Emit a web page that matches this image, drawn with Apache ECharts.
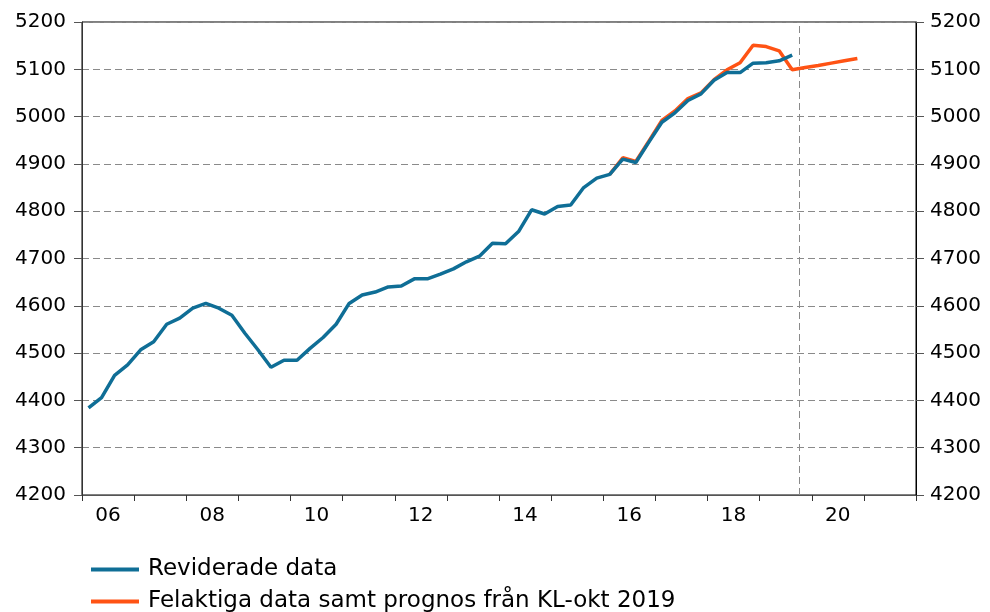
<!DOCTYPE html>
<html>
<head>
<meta charset="utf-8">
<script src="https://cdn.jsdelivr.net/npm/echarts@6/dist/echarts.min.js"></script>
<style>html,body{margin:0;padding:0;background:#fff;}#c{width:990px;height:612px;}</style>
</head>
<body>
<div id="c"></div>
<script>
// Year categories for the x axis (ticks at year boundaries, labels every other year)
const years = ['06','07','08','09','10','11','12','13','14','15','16','17','18','19','20','21'];
// Quarterly data: Reviderade data, starting 2006 Q1
const blueStart = 2006;
const blueValues = [
  4384, 4406, 4453, 4475,
  4507, 4524, 4561, 4574,
  4595, 4605, 4595, 4580,
  4542, 4507, 4470, 4485,
  4485, 4510, 4533, 4561,
  4605, 4623, 4629, 4640,
  4642, 4657, 4657, 4667,
  4678, 4693, 4705, 4732,
  4731, 4757, 4803, 4794,
  4810, 4813, 4850, 4870,
  4878, 4910, 4903, 4946,
  4988, 5008, 5034, 5048,
  5077, 5093, 5093, 5113,
  5114, 5118, 5130
];
// Felaktiga data samt prognos, starting 2016 Q1
const orangeStart = 2016;
const orangeValues = [
  4878, 4913, 4905, 4948,
  4992, 5012, 5038, 5050,
  5078, 5099, 5114, 5151,
  5148, 5139, 5099, 5104,
  5108, 5113, 5118, 5123
];
const forecastLineX = 2019.76;
const yMin = 4200, yMax = 5200, yStep = 100;
const blueName = 'Reviderade data';
const orangeName = 'Felaktiga data samt prognos från KL-okt 2019';

function toPairs(start, vals) {
  return vals.map((v, i) => [start + (i + 0.5) / 4, v]);
}

const FONT = 'DejaVu Sans';
const chart = echarts.init(document.getElementById('c'));
const yAxisCommon = {
  type: 'value', min: yMin, max: yMax, interval: yStep,
  axisLabel: { fontFamily: FONT, fontSize: 20, color: '#000', formatter: v => String(v) },
  axisTick: { show: true, length: 8, lineStyle: { color: '#555' } }
};
const legendCommon = {
  orient: 'horizontal', left: 86,
  itemWidth: 48, itemHeight: 4, icon: 'rect',
  textStyle: { fontFamily: FONT, fontSize: 23, color: '#000', padding: [0,0,0,4] }
};
chart.setOption({
  animation: false,
  backgroundColor: '#fff',
  grid: { left: 82, right: 74, top: 22, bottom: 117, show: true, borderColor: '#000', borderWidth: 1, backgroundColor: 'transparent' },
  legend: [
    Object.assign({}, legendCommon, { top: 553, data: [blueName] }),
    Object.assign({}, legendCommon, { top: 585, data: [orangeName] })
  ],
  xAxis: [
    {
      type: 'category', data: years, boundaryGap: true, position: 'bottom',
      axisLine: { lineStyle: { color: '#555', width: 1 } },
      axisTick: { show: true, interval: 0, length: 6, lineStyle: { color: '#333' } },
      axisLabel: { interval: 1, fontFamily: FONT, fontSize: 20, color: '#000', margin: 11 },
      splitLine: { show: false }
    },
    {
      type: 'value', min: 2006, max: 2022, show: false, splitLine: { show: false }
    }
  ],
  yAxis: [
    Object.assign({}, yAxisCommon, {
      position: 'left',
      axisLine: { show: true, lineStyle: { color: '#333' } },
      axisLabel: Object.assign({}, yAxisCommon.axisLabel, { margin: 16 }),
      splitLine: { show: true, lineStyle: { color: '#8a8a8a', type: [7, 4], width: 1 } }
    }),
    Object.assign({}, yAxisCommon, {
      position: 'right',
      axisLine: { show: true, lineStyle: { color: '#000' } },
      axisLabel: Object.assign({}, yAxisCommon.axisLabel, { margin: 14 }),
      splitLine: { show: false }
    })
  ],
  series: [
    {
      name: orangeName,
      type: 'line', xAxisIndex: 1, yAxisIndex: 0,
      data: toPairs(orangeStart, orangeValues),
      showSymbol: false, symbol: 'none',
      lineStyle: { color: '#ff5314', width: 3.5 }, itemStyle: { color: '#ff5314' },
      z: 2,
      markLine: {
        silent: true, symbol: 'none', label: { show: false },
        lineStyle: { color: '#8a8a8a', type: [7, 4], width: 1 },
        data: [{ xAxis: forecastLineX }]
      }
    },
    {
      name: blueName,
      type: 'line', xAxisIndex: 1, yAxisIndex: 0,
      data: toPairs(blueStart, blueValues),
      showSymbol: false, symbol: 'none',
      lineStyle: { color: '#0f6e96', width: 3.5 }, itemStyle: { color: '#0f6e96' },
      z: 3
    }
  ]
});
</script>
</body>
</html>
